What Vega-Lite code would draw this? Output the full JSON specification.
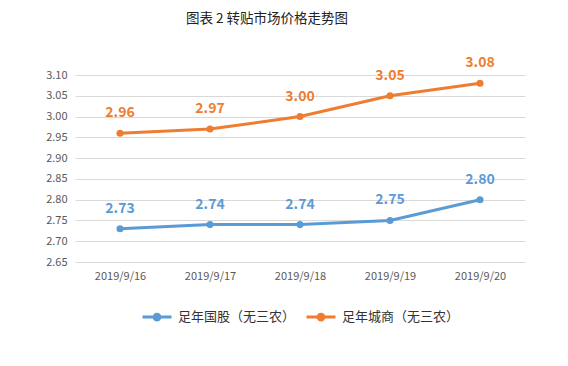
{
  "$schema": "https://vega.github.io/schema/vega-lite/v6.json",
  "width": 450,
  "height": 187,
  "autosize": {"type": "none"},
  "padding": {"left": 75, "top": 75, "right": 43, "bottom": 104},
  "background": "white",
  "config": {
    "font": "Noto Sans CJK SC",
    "view": {"stroke": null},
    "legend": {"layout": {"bottom": {"anchor": "middle"}}}
  },
  "title": {
    "text": "图表 2  转贴市场价格走势图",
    "fontSize": 13.5,
    "fontWeight": "normal",
    "color": "#222222",
    "anchor": "middle",
    "dx": -33,
    "offset": 31
  },
  "data": {
    "values": [
      {"date": "2019/9/16", "series": "足年国股（无三农）", "value": 2.73},
      {"date": "2019/9/17", "series": "足年国股（无三农）", "value": 2.74},
      {"date": "2019/9/18", "series": "足年国股（无三农）", "value": 2.74},
      {"date": "2019/9/19", "series": "足年国股（无三农）", "value": 2.75},
      {"date": "2019/9/20", "series": "足年国股（无三农）", "value": 2.80},
      {"date": "2019/9/16", "series": "足年城商（无三农）", "value": 2.96},
      {"date": "2019/9/17", "series": "足年城商（无三农）", "value": 2.97},
      {"date": "2019/9/18", "series": "足年城商（无三农）", "value": 3.00},
      {"date": "2019/9/19", "series": "足年城商（无三农）", "value": 3.05},
      {"date": "2019/9/20", "series": "足年城商（无三农）", "value": 3.08}
    ]
  },
  "encoding": {
    "x": {
      "field": "date",
      "type": "nominal",
      "sort": null,
      "scale": {"paddingInner": 0, "paddingOuter": 0, "align": 0.5},
      "axis": {
        "title": null,
        "labelAngle": 0,
        "ticks": false,
        "domain": false,
        "labelPadding": 8,
        "labelFontSize": 11,
        "labelColor": "#595959"
      }
    },
    "y": {
      "field": "value",
      "type": "quantitative",
      "scale": {"domain": [2.65, 3.10], "zero": false, "nice": false},
      "axis": {
        "title": null,
        "values": [2.65, 2.70, 2.75, 2.80, 2.85, 2.90, 2.95, 3.00, 3.05, 3.10],
        "format": ".2f",
        "ticks": false,
        "domain": false,
        "grid": true,
        "gridColor": "#d9d9d9",
        "labelPadding": 8,
        "labelFontSize": 11,
        "labelColor": "#595959"
      }
    },
    "color": {
      "field": "series",
      "type": "nominal",
      "scale": {
        "domain": ["足年国股（无三农）", "足年城商（无三农）"],
        "range": ["#5B9BD5", "#ED7D31"]
      },
      "legend": {
        "title": null,
        "orient": "bottom",
        "direction": "horizontal",
        "offset": 20,
        "symbolType": "M-1,0L1,0M0.2,0A0.2,0.2,0,1,1,-0.2,0A0.2,0.2,0,1,1,0.2,0",
        "symbolSize": 841,
        "symbolStrokeWidth": 3,
        "labelFontSize": 13,
        "labelColor": "#333333",
        "columnPadding": 4,
        "labelOffset": 5
      }
    }
  },
  "layer": [
    {
      "mark": {"type": "line", "strokeWidth": 3, "point": {"filled": true, "size": 50}}
    },
    {
      "mark": {"type": "text", "dy": -20, "fontSize": 14, "fontWeight": "bold"},
      "encoding": {
        "text": {"field": "value", "type": "quantitative", "format": ".2f"}
      }
    }
  ]
}
